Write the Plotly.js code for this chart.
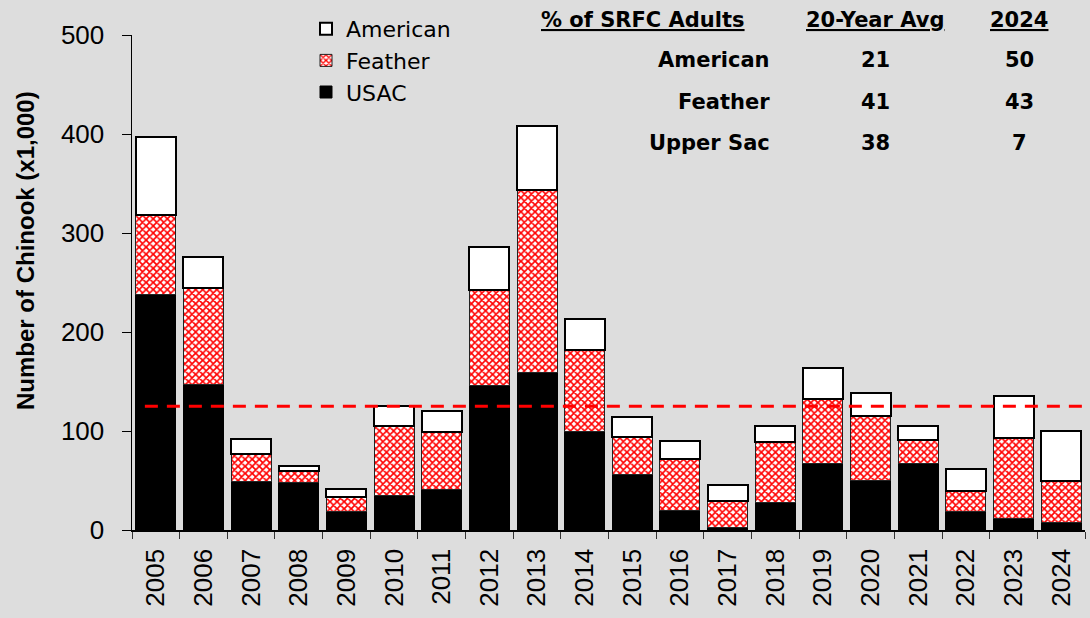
<!DOCTYPE html>
<html>
<head>
<meta charset="utf-8">
<script src="https://cdn.plot.ly/plotly-3.0.1.min.js"></script>
<style>
  html, body { margin: 0; padding: 0; background: #dddddd; }
  #chart { width: 1090px; height: 618px; }
</style>
</head>
<body>
<div id="chart"></div>
<script>
const years = ["2005", "2006", "2007", "2008", "2009", "2010", "2011", "2012", "2013", "2014",
               "2015", "2016", "2017", "2018", "2019", "2020", "2021", "2022", "2023", "2024"];

// escapement by tributary, thousands of fish
const usac     = [238, 147, 49, 48, 19, 35, 41, 146, 159, 99, 56, 20, 3, 28, 67, 50, 67, 19, 12, 8];
const feather  = [80, 97, 28, 12, 14, 70, 58, 96, 184, 83, 38, 52, 26, 61, 65, 65, 24, 20, 81, 42];
const american = [79, 32, 15, 5, 8, 20, 21, 44, 65, 31, 20, 18, 16, 16, 32, 23, 14, 23, 42, 50];

const goal = 125;

// % of SRFC adults table
const tableRows  = ["American", "Feather", "Upper Sac"];
const avgPct     = [21, 41, 38];
const latestPct  = [50, 43, 7];

const traces = [
    {
        name: "USAC",
        x: years,
        y: usac,
        type: "bar",
        marker: { color: "black", line: { color: "black", width: 1 } }
    },
    {
        name: "Feather",
        x: years,
        y: feather,
        type: "bar",
        marker: {
            color: "#ff0000",
            line: { color: "#222", width: 1 },
            pattern: { shape: "x", fgcolor: "#ff0000", bgcolor: "white", size: 5, solidity: 0.55 }
        }
    },
    {
        name: "American",
        x: years,
        y: american,
        type: "bar",
        marker: { color: "white", line: { color: "black", width: 2 } }
    }
];

// pixel helpers for the table placed in paper coords
const plotL = 132, plotR = 1085, plotT = 35, plotB = 530;
const px = v => (v - plotL) / (plotR - plotL);
const py = v => (plotB - v) / (plotB - plotT);

const tableFont = { family: "DejaVu Sans", size: 21, color: "black" };

function cell(text, x, y, anchor) {
    return {
        xref: "paper", yref: "paper",
        x: px(x), y: py(y),
        xanchor: anchor, yanchor: "middle",
        text: "<b>" + text + "</b>",
        showarrow: false,
        font: tableFont
    };
}

const annotations = [
    cell("<u>% of SRFC Adults</u>", 643, 20, "center"),
    cell("<u>20-Year Avg</u>", 875, 20, "center"),
    cell("<u>2024</u>", 1019, 20, "center")
];
const rowY = [60, 102, 143];
tableRows.forEach((r, i) => {
    annotations.push(cell(r, 772, rowY[i], "right"));
    annotations.push(cell(String(avgPct[i]), 875, rowY[i], "center"));
    annotations.push(cell(String(latestPct[i]), 1019, rowY[i], "center"));
});

// y axis title, sits a little above the plot centre in the original
annotations.push({
    xref: "paper", yref: "paper",
    x: px(25), y: py(251),
    xanchor: "center", yanchor: "middle",
    textangle: -90,
    text: "<b>Number of Chinook (x1,000)</b>",
    showarrow: false,
    font: { family: "Liberation Sans", size: 24, color: "black" }
});

const layout = {
    width: 1090,
    height: 618,
    barmode: "stack",
    bargap: 0.16,
    paper_bgcolor: "#dddddd",
    plot_bgcolor: "#dddddd",
    margin: { l: plotL, r: 1090 - plotR, t: plotT, b: 618 - plotB },
    showlegend: true,
    legend: {
        x: px(306), y: py(8),
        xanchor: "left", yanchor: "top",
        traceorder: "reversed",
        bgcolor: "rgba(0,0,0,0)",
        font: { family: "DejaVu Sans", size: 22, color: "black" },
        itemwidth: 30,
        tracegroupgap: 0
    },
    xaxis: {
        type: "category",
        showline: true,
        linecolor: "black",
        linewidth: 1.5,
        ticks: "outside",
        tickson: "boundaries",
        ticklen: 7,
        tickcolor: "#333",
        tickangle: -90,
        ticklabelstandoff: 7,
        tickfont: { family: "Liberation Sans", size: 26, color: "black" },
        showgrid: false,
        zeroline: false,
        range: [-0.5, 19.5]
    },
    yaxis: {
        range: [0, 500],
        dtick: 100,
        showline: true,
        linecolor: "black",
        linewidth: 1.5,
        ticks: "outside",
        ticklen: 9,
        tickcolor: "black",
        ticklabelstandoff: 12,
        tickfont: { family: "Liberation Sans", size: 26, color: "black" },
        showgrid: false,
        zeroline: false
    },
    shapes: [
        {
            type: "line",
            xref: "x", yref: "y",
            x0: -0.23, x1: 19.6,
            y0: goal, y1: goal,
            line: { color: "#ff0000", width: 3, dash: "13px,9px" },
            layer: "above"
        }
    ],
    annotations: annotations
};

const config = { displayModeBar: false, staticPlot: true };

Plotly.newPlot("chart", traces, layout, config);
</script>
</body>
</html>
